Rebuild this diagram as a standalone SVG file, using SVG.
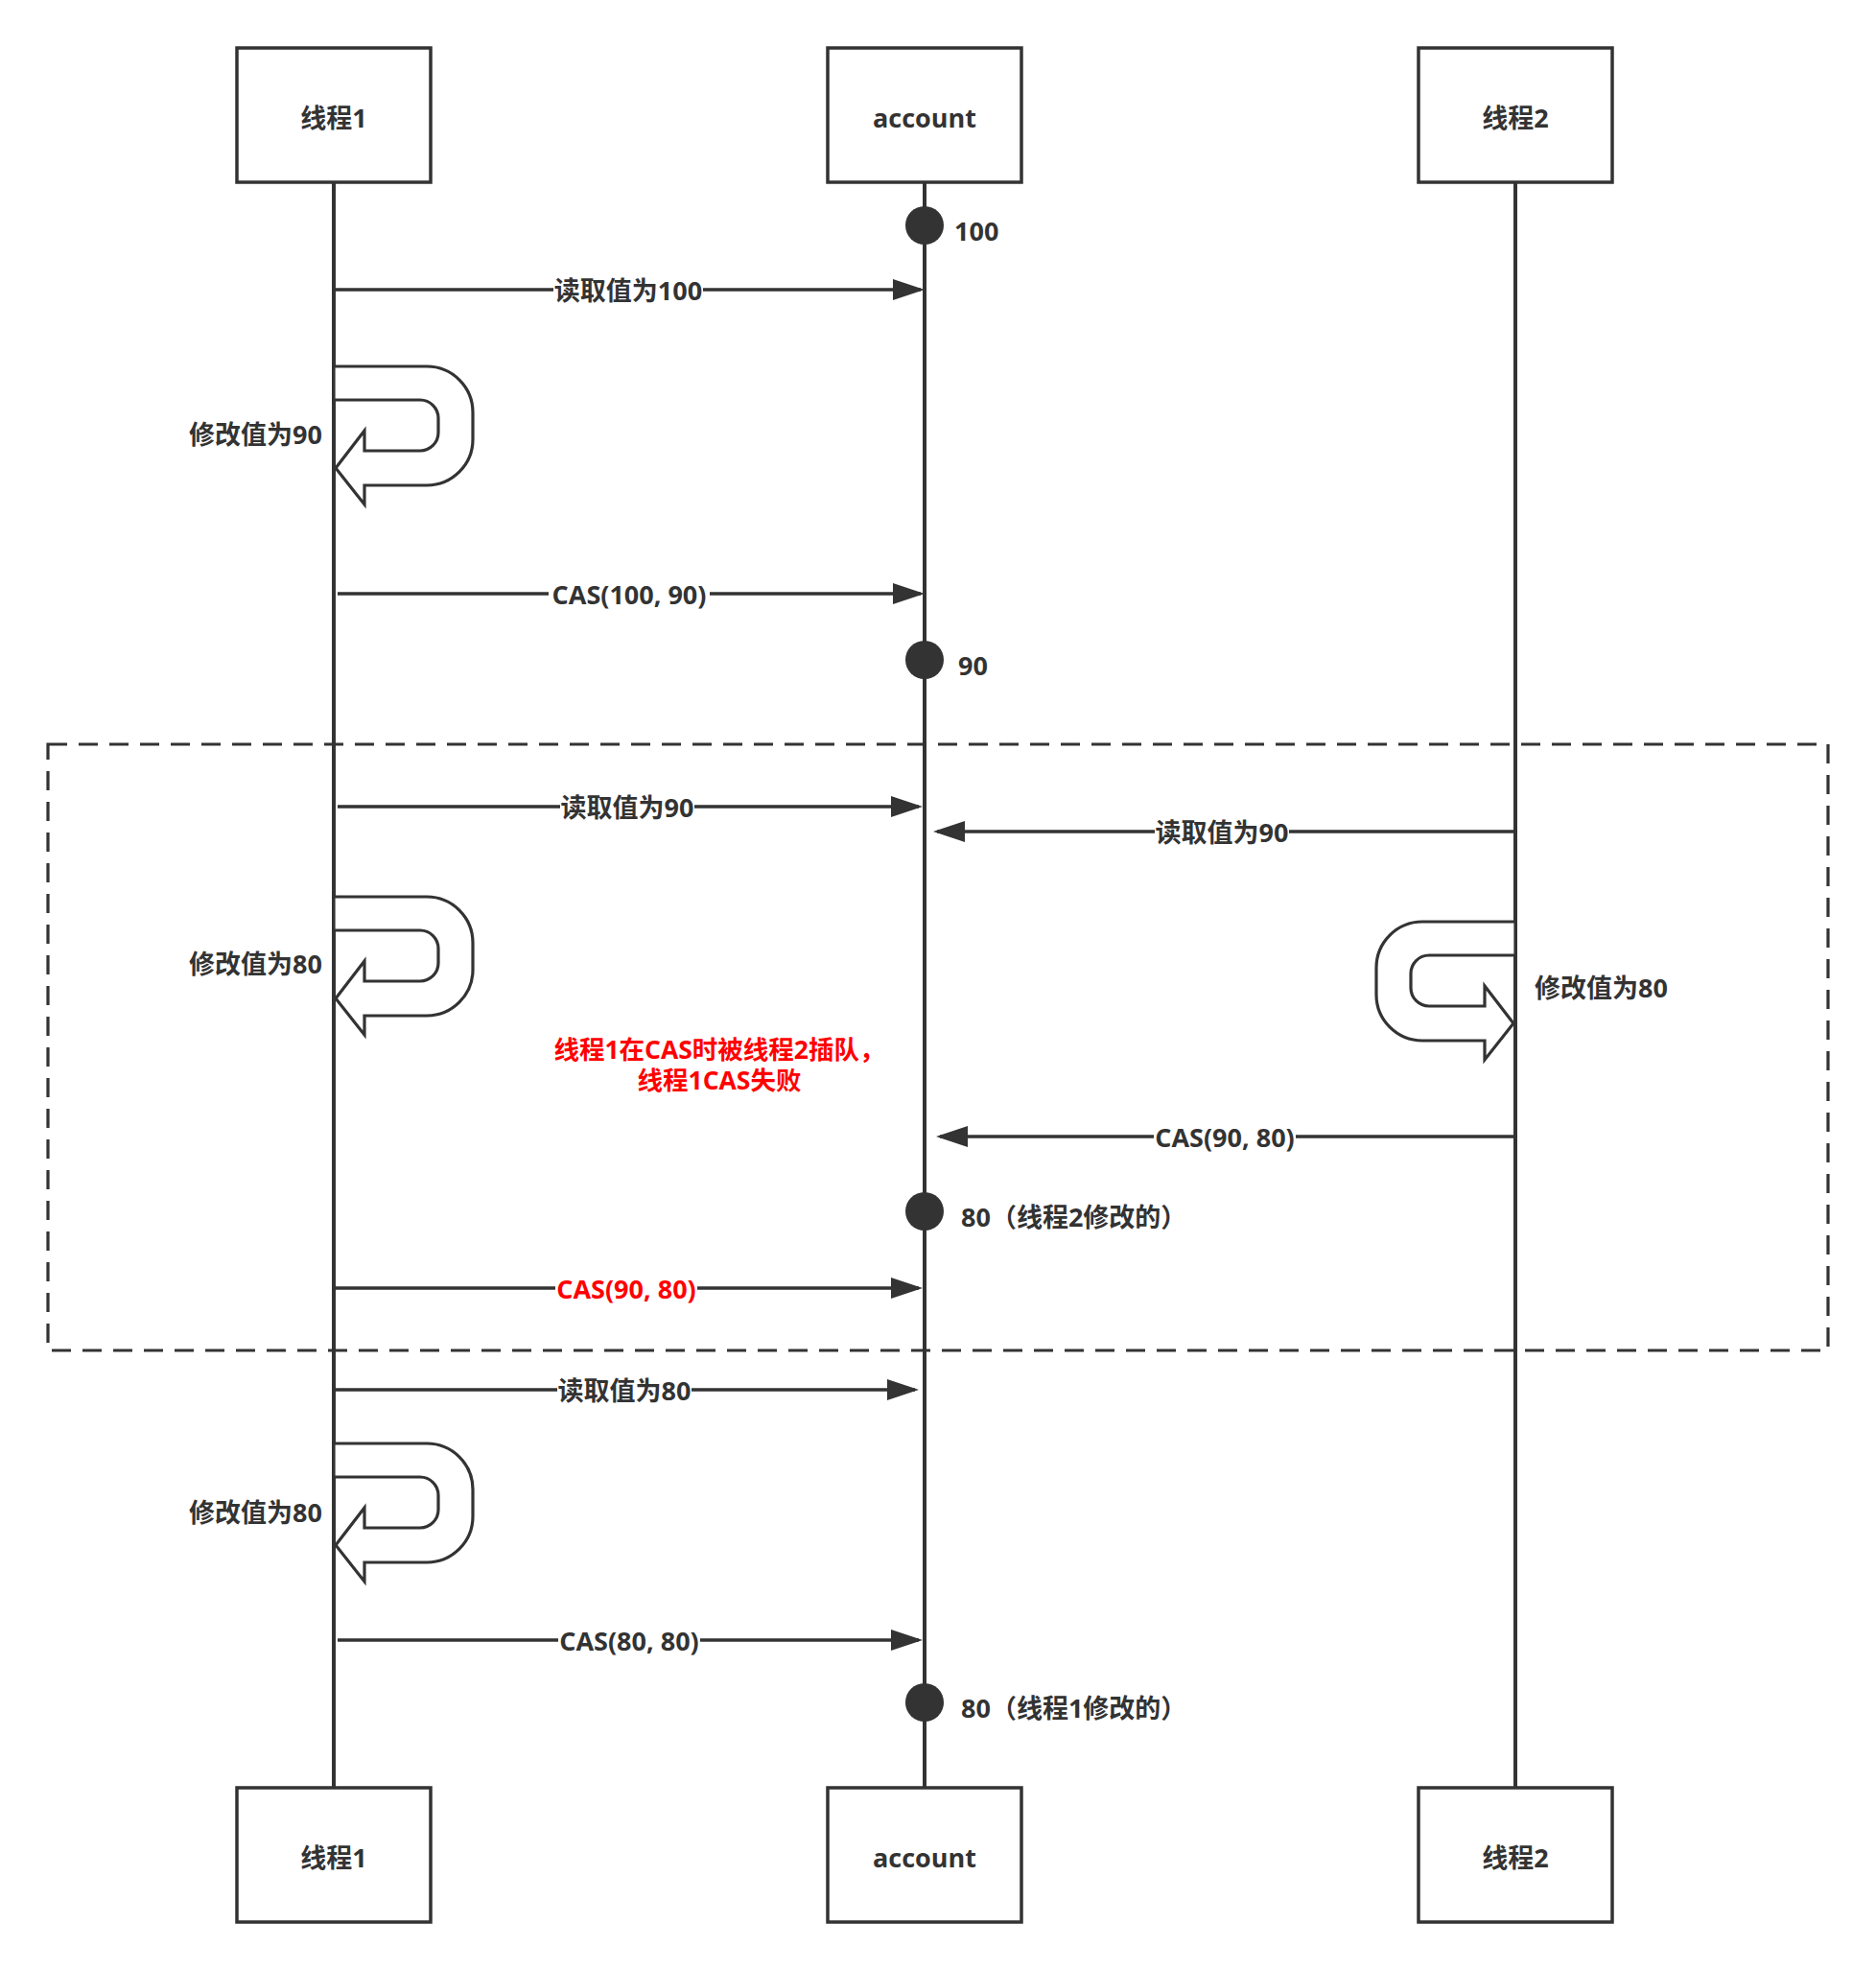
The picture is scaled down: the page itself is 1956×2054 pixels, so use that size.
<svg xmlns="http://www.w3.org/2000/svg" xmlns:xlink="http://www.w3.org/1999/xlink" width="1956" height="2054" viewBox="0 0 1956 2054">
<style>
.box{fill:#fff;stroke:#333;stroke-width:3.5}
.life{stroke:#333;stroke-width:4;fill:none}
.msg{stroke:#333;stroke-width:3.5;fill:none;marker-end:url(#arr)}
.t{font-family:"Open Sans","Noto Sans CJK SC",sans-serif;font-weight:bold;font-size:27px;fill:#333}
.c{text-anchor:middle}
.e{text-anchor:end}
.red{fill:#f00}
.lbg{fill:#fff}
.loop{fill:#fff;stroke:#333;stroke-width:3.2}
.dot{fill:#333}
.frame{fill:none;stroke:#333;stroke-width:3.2;stroke-dasharray:20 12}
</style>
<defs>
<marker id="arr" markerUnits="userSpaceOnUse" markerWidth="34" markerHeight="24" refX="29" refY="12" orient="auto">
<path d="M0,1 L33,12 L0,23 Z" fill="#333"/>
</marker>
<path id="uturn" d="M0 0 H97 A48 48 0 0 1 145 48 V76 A48 48 0 0 1 97 124 H32 V144 L2 106 L32 67 V88 H90 A19 19 0 0 0 109 69 V54 A19 19 0 0 0 90 35 H0 Z"/>
</defs>
<rect width="1956" height="2054" fill="#fff"/>

<g id="lifelines">
<line class="life" x1="348" y1="190" x2="348" y2="1864"/>
<line class="life" x1="964" y1="190" x2="964" y2="1864"/>
<line class="life" x1="1580" y1="190" x2="1580" y2="1864"/>
</g>

<g id="frame">
<rect class="frame" x="50" y="776" width="1856" height="632"/>
</g>

<g id="thread1-top"><rect class="box" x="247" y="50" width="202" height="140"/><text class="t c" x="348" y="133">线程1</text></g>
<g id="account-top"><rect class="box" x="863" y="50" width="202" height="140"/><text class="t c" x="964" y="133">account</text></g>
<g id="thread2-top"><rect class="box" x="1479" y="50" width="202" height="140"/><text class="t c" x="1580" y="133">线程2</text></g>

<g id="thread1-bottom"><rect class="box" x="247" y="1864" width="202" height="140"/><text class="t c" x="348" y="1947">线程1</text></g>
<g id="account-bottom"><rect class="box" x="863" y="1864" width="202" height="140"/><text class="t c" x="964" y="1947">account</text></g>
<g id="thread2-bottom"><rect class="box" x="1479" y="1864" width="202" height="140"/><text class="t c" x="1580" y="1947">线程2</text></g>

<g id="state-100"><circle class="dot" cx="964" cy="235" r="20"/><text class="t" x="995" y="251">100</text></g>
<g id="state-90"><circle class="dot" cx="964" cy="688" r="20"/><text class="t" x="999" y="704">90</text></g>
<g id="state-80a"><circle class="dot" cx="964" cy="1263" r="20"/><text class="t" x="1002" y="1279">80（线程2修改的）</text></g>
<g id="state-80b"><circle class="dot" cx="964" cy="1775" r="20"/><text class="t" x="1002" y="1791">80（线程1修改的）</text></g>

<g id="loop1"><use href="#uturn" class="loop" transform="translate(348,382)"/><text class="t e" x="336" y="463">修改值为90</text></g>
<g id="loop2"><use href="#uturn" class="loop" transform="translate(348,935)"/><text class="t e" x="336" y="1015">修改值为80</text></g>
<g id="loop3"><use href="#uturn" class="loop" transform="translate(348,1505)"/><text class="t e" x="336" y="1587">修改值为80</text></g>
<g id="loop4"><use href="#uturn" class="loop" transform="translate(1580,961) scale(-1,1)"/><text class="t" x="1600" y="1040">修改值为80</text></g>

<g id="note"><text class="t c red" style="font-size:26.5px"><tspan x="750" y="1104">线程1在CAS时被线程2插队，</tspan><tspan x="750" y="1136">线程1CAS失败</tspan></text></g>

<g id="connectors">
<line class="msg" x1="350" y1="302" x2="960" y2="302"/>
<rect class="lbg" x="577" y="287" width="156" height="30"/><text class="t c" x="655" y="313">读取值为100</text>

<line class="msg" x1="352" y1="619" x2="960" y2="619"/>
<rect class="lbg" x="572" y="604" width="168" height="30"/><text class="t c" x="656" y="630">CAS(100, 90)</text>

<line class="msg" x1="352" y1="841" x2="958" y2="841"/>
<rect class="lbg" x="584" y="826" width="140" height="30"/><text class="t c" x="654" y="852">读取值为90</text>

<line class="msg" x1="1578" y1="867" x2="977" y2="867"/>
<rect class="lbg" x="1204" y="852" width="140" height="30"/><text class="t c" x="1274" y="878">读取值为90</text>

<line class="msg" x1="1578" y1="1185" x2="980" y2="1185"/>
<rect class="lbg" x="1203" y="1170" width="148" height="30"/><text class="t c" x="1277" y="1196">CAS(90, 80)</text>

<line class="msg" x1="348" y1="1343" x2="958" y2="1343"/>
<rect class="lbg" x="579" y="1328" width="148" height="30"/><text class="t c red" x="653" y="1354">CAS(90, 80)</text>

<line class="msg" x1="348" y1="1449" x2="954" y2="1449"/>
<rect class="lbg" x="581" y="1434" width="140" height="30"/><text class="t c" x="651" y="1460">读取值为80</text>

<line class="msg" x1="352" y1="1710" x2="958" y2="1710"/>
<rect class="lbg" x="582" y="1695" width="148" height="30"/><text class="t c" x="656" y="1721">CAS(80, 80)</text>
</g>
</svg>
